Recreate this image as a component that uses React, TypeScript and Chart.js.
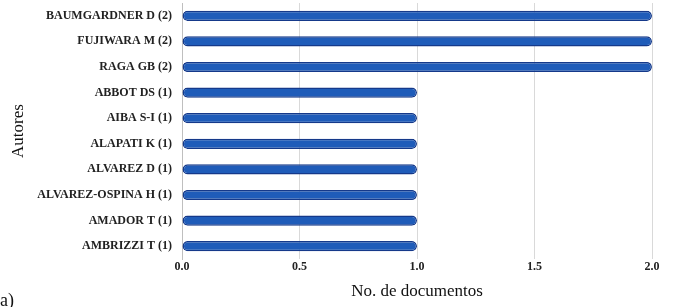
import React, { useEffect, useRef } from "react";
import { Chart, registerables } from "chart.js";

Chart.register(...registerables);

const authors = [
  "BAUMGARDNER D (2)",
  "FUJIWARA M (2)",
  "RAGA GB (2)",
  "ABBOT DS (1)",
  "AIBA S-I (1)",
  "ALAPATI K (1)",
  "ALVAREZ D (1)",
  "ALVAREZ-OSPINA H (1)",
  "AMADOR T (1)",
  "AMBRIZZI T (1)",
];
const documents = [2, 2, 2, 1, 1, 1, 1, 1, 1, 1];
const xTicks = [0, 0.5, 1, 1.5, 2];

const SERIF = "'Liberation Serif', 'Times New Roman', serif";

export default function App() {
  const ref = useRef<HTMLCanvasElement>(null);
  useEffect(() => {
    if (!ref.current) return;
    const chart = new Chart(ref.current, {
      type: "bar",
      data: {
        labels: authors,
        datasets: [
          {
            data: documents,
            backgroundColor: "#1f5cb9",
            borderColor: "#15398a",
            borderWidth: 1.5,
            borderRadius: 5,
            borderSkipped: false,
            barPercentage: 0.4,
            categoryPercentage: 1,
          },
        ],
      },
      options: {
        indexAxis: "y",
        animation: false,
        responsive: false,
        maintainAspectRatio: false,
        layout: { padding: { top: 3, right: 23, left: 0, bottom: 0 } },
        plugins: { legend: { display: false }, tooltip: { enabled: false } },
        scales: {
          x: {
            min: 0,
            max: 2,
            afterBuildTicks: (s: any) => {
              s.ticks = xTicks.map((v) => ({ value: v }));
            },
            afterFit: (s: any) => {
              s.height = 48;
            },
            grid: {
              color: (c: any) => (c.tick && c.tick.value === 0 ? "rgba(0,0,0,0)" : "#d9d9d9"),
              drawTicks: false,
              lineWidth: 1,
            },
            border: { display: false },
            ticks: {
              padding: 1,
              color: "#222",
              font: { family: SERIF, size: 12, weight: "bold" },
              callback: (v: any) => Number(v).toFixed(1),
            },
            title: {
              display: true,
              text: "No. de documentos",
              color: "#111",
              font: { family: SERIF, size: 17 },
              padding: { top: 0, bottom: 5 },
            },
          },
          y: {
            afterFit: (s: any) => {
              s.width = 182;
              s.paddingTop = 0;
              s.paddingBottom = 0;
            },
            grid: { display: false, drawTicks: false },
            border: { display: true, color: "#bfbfbf", width: 1 },
            ticks: {
              padding: 10,
              color: "#222",
              font: { family: SERIF, size: 12, weight: "bold" },
            },
            title: {
              display: true,
              text: "Autores",
              color: "#111",
              font: { family: SERIF, size: 17 },
              padding: { top: 8, bottom: 0 },
            },
          },
        },
      },
    });
    return () => chart.destroy();
  }, []);
  return (
    <div style={{ position: "fixed", left: 0, top: 0, width: 675, height: 307, background: "#fff" }}>
      <canvas ref={ref} width={675} height={307} style={{ display: "block" }} />
      <div
        style={{
          position: "absolute",
          left: 0,
          top: 291,
          fontFamily: SERIF,
          fontSize: 18,
          lineHeight: "18px",
          color: "#111",
        }}
      >
        a)
      </div>
    </div>
  );
}
